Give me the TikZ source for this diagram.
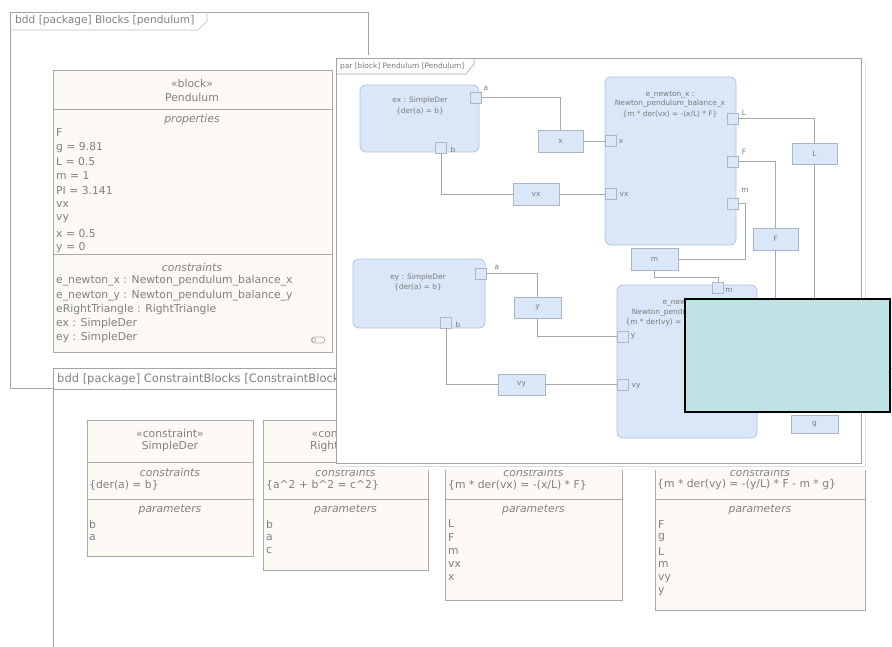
\documentclass[tikz,border=0pt]{standalone}
\usepackage{fontspec}
\setmainfont{DejaVu Sans}
\definecolor{frameln}{HTML}{A4A4A4}
\definecolor{blkln}{HTML}{A9A9A9}
\definecolor{txtgray}{HTML}{808080}
\definecolor{ptxt}{HTML}{7A7A7A}
\definecolor{beige}{HTML}{FDF9F5}
\definecolor{bfill}{HTML}{D9E7F9}
\definecolor{bline}{HTML}{B2C5DF}
\definecolor{pline}{HTML}{A9B6C8}
\definecolor{wirec}{HTML}{A8A8A8}
\definecolor{cyanfill}{HTML}{BFE3E4}
\newcommand{\ca}{\textasciicircum}
\begin{document}
\begin{tikzpicture}[x=1pt,y=-1pt,
  box/.style 2 args={minimum width=#1, minimum height=#2, anchor=north west, inner sep=0pt, outer sep=0pt},
  frm/.style={draw=frameln, fill=white, line width=0.8pt},
  blk/.style={draw=blkln, fill=beige, line width=0.8pt},
  sep/.style={draw=blkln, line width=0.8pt},
  tx/.style={inner sep=0pt, text=txtgray, font=\fontsize{10.8}{13}\selectfont},
  txl/.style={tx, anchor=west},
  txi/.style={inner sep=0pt, text=txtgray, font=\fontsize{10.8}{13}\selectfont\itshape},
  hd/.style={inner sep=0pt, text=txtgray, font=\fontsize{10.6}{13}\selectfont, anchor=west},
  part/.style={draw=bline, fill=bfill, rounded corners=6pt, line width=0.8pt},
  prt/.style={draw=pline, fill=bfill, line width=0.6pt, minimum width=11pt, minimum height=11pt, inner sep=0pt},
  prop/.style={draw=pline, fill=bfill, line width=0.6pt},
  ps/.style={inner sep=0pt, text=ptxt, font=\fontsize{7.4}{9.6}\selectfont},
  wire/.style={draw=wirec, line width=0.7pt},
]
\clip (0,0) rectangle (892,646);
\fill[white] (0,0) rectangle (892,646);

% ---------------- Frame 1 : bdd Blocks
\node[frm, box={358}{376}] (f1) at (10,12) {};
\draw[frameln!70, line width=0.6pt] (10,30) -- (198,30) -- (207,21) -- (207,12);
\node[hd] (f1h) at (15,21) {bdd [package] Blocks [pendulum]};

% Pendulum block
\node[blk, box={279}{282}] (pend) at (53,70) {};
\node[tx] (pst) at (192,83) {«block»};
\node[tx] (pnm) at (192,97) {Pendulum};
\draw[sep] (53,109) -- (332,109);
\node[txi] (pprop) at (192,120) {properties};
\foreach \t [count=\i] in {F, g = 9.81, L = 0.5, m = 1, PI = 3.141, vx, vy, x = 0.5, y = 0}
  \node[txl] (pr\i) at (56,118.7+14.3*\i) {\t};
\draw[sep] (53,254) -- (332,254);
\node[txi] (pcons) at (192,267) {constraints};
\node[txl] (pc1) at (56,281) {e\_newton\_x : Newton\_pendulum\_balance\_x};
\node[txl] (pc2) at (56,295.5) {e\_newton\_y : Newton\_pendulum\_balance\_y};
\node[txl] (pc3) at (56,309.5) {eRightTriangle : RightTriangle};
\node[txl] (pc4) at (56,323.5) {ex : SimpleDer};
\node[txl] (pc5) at (56,337.5) {ey : SimpleDer};
\node[draw=blkln, rounded corners=2.5pt, minimum width=13pt, minimum height=6pt, inner sep=0pt, line width=0.6pt] (icon) at (318,340) {};
\node[draw=blkln, circle, minimum size=4pt, inner sep=0pt, line width=0.6pt] (iconc) at (314,340) {};

% ---------------- Frame 2 : bdd ConstraintBlocks
\node[frm, box={900}{400}] (f2) at (53,368) {};
\node[hd, font=\fontsize{11.5}{13}\selectfont] (f2h) at (57,379) {bdd [package] ConstraintBlocks [ConstraintBlocks]};
\draw[frameln, line width=0.6pt] (53,389) -- (892,389);

% SimpleDer
\node[blk, box={166}{136}] (cA) at (87,420) {};
\draw[sep] (87,462) -- (253,462);
\draw[sep] (87,499) -- (253,499);
\node[tx] (cA1) at (170,433) {«constraint»};
\node[tx] (cA2) at (170,447) {SimpleDer};
\node[txi] (cA3) at (170,472) {constraints};
\node[txl] (cA4) at (89,485) {\{der(a) = b\}};
\node[txi] (cA5) at (170,510) {parameters};
\node[txl] (cA6) at (89,524) {b};
\node[txl] (cA7) at (89,537.5) {a};

% RightTriangle
\node[blk, box={165}{150}] (cB) at (263,420) {};
\draw[sep] (263,462) -- (428,462);
\draw[sep] (263,499) -- (428,499);
\node[tx] (cB1) at (345.5,433) {«constraint»};
\node[tx] (cB2) at (345.5,447) {RightTriangle};
\node[txi] (cB3) at (345.5,472) {constraints};
\node[txl] (cB4) at (266,485) {\{a\ca2 + b\ca2 = c\ca2\}};
\node[txi] (cB5) at (345.5,510) {parameters};
\node[txl] (cB6) at (266,524) {b};
\node[txl] (cB7) at (266,537.5) {a};
\node[txl] (cB8) at (266,551) {c};

% Newton_pendulum_balance_x
\node[blk, box={177}{180}] (cC) at (445,420) {};
\draw[sep] (445,499) -- (622,499);
\node[txi] (cC3) at (533.5,472) {constraints};
\node[txl] (cC4) at (448,485) {\{m * der(vx) = -(x/L) * F\}};
\node[txi] (cC5) at (533.5,510) {parameters};
\foreach \t [count=\i] in {L, F, m, vx, x}
  \node[txl] (cCp\i) at (448,510.5+13.5*\i) {\t};

% Newton_pendulum_balance_y
\node[blk, box={210}{190}] (cD) at (655,420) {};
\draw[sep] (655,499) -- (865,499);
\node[txi] (cD3) at (760,472) {constraints};
\node[txl] (cD4) at (657,485) {\{m * der(vy) = -(y/L) * F - m * g\}};
\node[txi] (cD5) at (760,510) {parameters};
\foreach \t [count=\i] in {F, g, L, m, vy, y}
  \node[txl] (cDp\i) at (658,510.5+13.6*\i) {\t};

% ---------------- Par diagram
\fill[white] (336,55) rectangle (869,470);
\draw[gray!25, line width=1pt] (340,466.5) -- (865,466.5) -- (865,62);
\node[frm, box={525}{405}] (par) at (336,58) {};
\draw[frameln, line width=0.6pt] (336,74) -- (466,74) -- (474,64) -- (474,58);
\node[ps, anchor=west] (parh) at (340,66) {par [block] Pendulum [Pendulum]};

% ex
\node[part, box={119}{67}] (ex) at (360,85) {};
\node[ps] (ex1) at (420,100) {ex : SimpleDer};
\node[ps] (ex2) at (420,111) {\{der(a) = b\}};
\node[prt] (exa) at (475.5,97.5) {};
\node[ps] (exal) at (486,88) {a};
\node[prt] (exb) at (441,147.5) {};
\node[ps] (exbl) at (453,150) {b};

% e_newton_x
\node[part, box={131}{168}] (enx) at (605,77) {};
\node[ps] (enx1) at (670,95) {e\_newton\_x :};
\node[ps] (enx2) at (670,104) {Newton\_pendulum\_balance\_x};
\node[ps] (enx3) at (670,114) {\{m * der(vx) = -(x/L) * F\}};
\node[prt] (enxx) at (611,141) {};
\node[ps] (enxxl) at (621,141) {x};
\node[prt] (enxvx) at (611,194) {};
\node[ps] (enxvxl) at (624,194) {vx};
\node[prt] (enxL) at (733,118.5) {};
\node[ps] (enxLl) at (744,113) {L};
\node[prt] (enxF) at (733,161.5) {};
\node[ps] (enxFl) at (744,152) {F};
\node[prt] (enxm) at (733,203.5) {};
\node[ps] (enxml) at (745,190) {m};

% ey
\node[part, box={132}{69}] (ey) at (353,259) {};
\node[ps] (ey1) at (418,277) {ey : SimpleDer};
\node[ps] (ey2) at (418,287) {\{der(a) = b\}};
\node[prt] (eya) at (480.5,273.5) {};
\node[ps] (eyal) at (497,267) {a};
\node[prt] (eyb) at (446,322.5) {};
\node[ps] (eybl) at (458,325) {b};

% e_newton_y
\node[part, box={140}{153}] (eny) at (617,285) {};
\node[ps] (eny1) at (687,303) {e\_newton\_y :};
\node[ps] (eny2) at (687,313) {Newton\_pendulum\_balance\_y};
\node[ps] (eny3) at (687,322) {\{m * der(vy) = -(y/L) * F - m * g\}};
\node[prt] (enyy) at (623,336.5) {};
\node[ps] (enyyl) at (633,336.5) {y};
\node[prt] (enyvy) at (623,384.5) {};
\node[ps] (enyvyl) at (636,386) {vy};
\node[prt] (enym) at (718,288) {};
\node[ps] (enyml) at (729,290) {m};
\coordinate (cyL) at (757,330);
\coordinate (cyF) at (757,350);

% value properties
\node[prop, ps, box={45}{22}] (px) at (538,130) {x};
\node[prop, ps, box={46}{22}] (pvx) at (513,183) {vx};
\node[prop, ps, box={45}{21}] (pL) at (792,143) {L};
\node[prop, ps, box={45}{22}] (pF) at (753,228) {F};
\node[prop, ps, box={47}{22}] (pm) at (631,248) {m};
\node[prop, ps, box={47}{21}] (py) at (514,297) {y};
\node[prop, ps, box={47}{21}] (pvy) at (498,374) {vy};
\node[prop, ps, box={47}{18}] (pg) at (791,415) {g};

% wires
\draw[wire] (exa.east) -| (px.north);
\draw[wire] (px.east) -- (enxx.west);
\draw[wire] (exb.south) |- (pvx.west);
\draw[wire] (pvx.east) -- (enxvx.west);
\draw[wire] (enxL.east) -| (pL.north);
\draw[wire] (pL.south) |- (cyL);
\draw[wire] (enxF.east) -| (pF.north);
\draw[wire] (pF.south) |- (cyF);
\draw[wire] (enxm.east) -- ++(7,0) |- (pm.east);
\draw[wire] (pm.south) -- ++(0,7) -| (enym.north);
\draw[wire] (eya.east) -| (py.north);
\draw[wire] (py.south) |- (enyy.west);
\draw[wire] (eyb.south) |- (pvy.west);
\draw[wire] (pvy.east) -- (enyvy.west);

% cyan overlay
\node[draw=black, fill=cyanfill, line width=1.6pt, box={205}{113}] (cyan) at (685,299) {};
\end{tikzpicture}
\end{document}
